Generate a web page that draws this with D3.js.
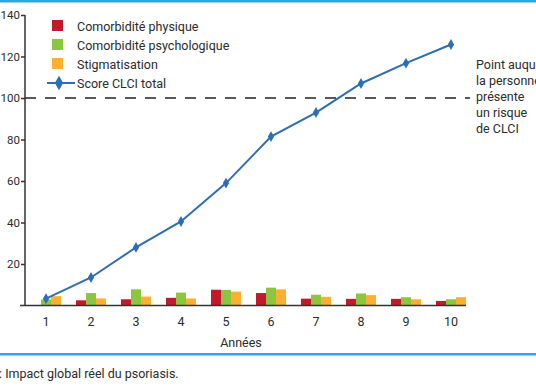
<!DOCTYPE html>
<html>
<head>
    <title>Score CLCI</title>
    <script src="https://cdnjs.cloudflare.com/ajax/libs/d3/7.8.5/d3.min.js"></script>
    <style>
        body { margin: 0; background: #fff; }
        text { font-family: Roboto, "DejaVu Sans", sans-serif; fill: #2b2b2b; }
    </style>
</head>

<body>
    <div id="chart"></div>

    <script>
        // data
        const annees = ["1", "2", "3", "4", "5", "6", "7", "8", "9", "10"]
        const physique = [0, 2.5, 3, 3.7, 7.6, 6, 3.3, 3.2, 3.2, 2.2]
        const psychologique = [2.9, 6, 7.8, 6.2, 7.5, 8.6, 5.2, 5.8, 4, 3]
        const stigmatisation = [4.5, 3.4, 4.3, 3.4, 6.7, 7.8, 4.2, 5, 3, 4]
        const scoreTotal = [3.3, 13.5, 28, 40.5, 59, 81.4, 93, 107, 116.8, 125.8]
        const yTicks = [20, 40, 60, 80, 100, 120, 140]
        const seuil = 100
        const seriesNames = ["Comorbidité physique", "Comorbidité psychologique", "Stigmatisation"]
        const lineName = "Score CLCI total"
        const noteLines = ["Point auquel", "la personne", "présente", "un risque", "de CLCI"]

        const W = 536, H = 386
        const colors = ["#c4192b", "#8cc63f", "#fbb034"]
        const lineColor = "#2d6db5"
        const rule = "#29a9df"

        let svg = d3.select("#chart").append("svg")
            .attr("width", W).attr("height", H)

        let x = d3.scaleBand().domain(annees).range([23.5, 473.5])
        let y = d3.scaleLinear().domain([0, 140]).range([305.5, 15])
        let barW = 10

        // top and bottom blue rules
        svg.append("rect").attr("x", 0).attr("y", 0).attr("width", W).attr("height", 2.5).attr("fill", rule)
        svg.append("rect").attr("x", 0).attr("y", 353).attr("width", W).attr("height", 2.5).attr("fill", rule)

        // bars
        let series = [physique, psychologique, stigmatisation]
        series.forEach(function (vals, s) {
            svg.append("g").selectAll("rect").data(vals).join("rect")
                .attr("x", (d, i) => x(annees[i]) + x.bandwidth() / 2 - 1.5 * barW + s * barW)
                .attr("y", d => y(d))
                .attr("width", barW)
                .attr("height", d => y(0) - y(d))
                .attr("fill", colors[s])
        })

        // threshold dashed line
        svg.append("line")
            .attr("x1", 25).attr("x2", 470)
            .attr("y1", y(seuil)).attr("y2", y(seuil))
            .attr("stroke", "#222").attr("stroke-width", 1.3)
            .attr("stroke-dasharray", "11,9")

        // axes
        let yAxis = svg.append("g").attr("transform", "translate(25,0)")
            .call(d3.axisLeft(y).tickValues(yTicks).tickSize(4).tickPadding(1))
        yAxis.select(".domain").attr("d", `M0,${y(0)}V${y(140)}`)
        yAxis.selectAll("line, path").attr("stroke", "#333").attr("stroke-width", 1.5)
        yAxis.selectAll("text").style("font-size", "11.5px").attr("fill", "#2b2b2b").style("font-family", "Roboto, sans-serif")

        svg.append("line").attr("x1", 20).attr("x2", 466)
            .attr("y1", y(0)).attr("y2", y(0))
            .attr("stroke", "#333").attr("stroke-width", 1.5)

        svg.append("g").selectAll("text").data(annees).join("text")
            .attr("x", d => x(d) + x.bandwidth() / 2)
            .attr("y", 326)
            .attr("text-anchor", "middle")
            .style("font-size", "12.5px")
            .text(d => d)

        svg.append("text").attr("x", 241).attr("y", 347)
            .attr("text-anchor", "middle").style("font-size", "12.5px")
            .text("Années")

        // total score line
        let line = d3.line()
            .x((d, i) => x(annees[i]) + x.bandwidth() / 2)
            .y(d => y(d))
        svg.append("path").datum(scoreTotal)
            .attr("d", line)
            .attr("fill", "none")
            .attr("stroke", lineColor)
            .attr("stroke-width", 2)
        let diamond = d3.symbol().type(d3.symbolDiamond).size(34)
        svg.append("g").selectAll("path").data(scoreTotal).join("path")
            .attr("d", diamond)
            .attr("transform", (d, i) => `translate(${x(annees[i]) + x.bandwidth() / 2},${y(d)})`)
            .attr("fill", lineColor)

        // legend
        let lg = svg.append("g")
        seriesNames.forEach(function (name, i) {
            let ly = 26 + i * 19
            lg.append("rect").attr("x", 52).attr("y", ly - 6).attr("width", 11).attr("height", 11).attr("fill", colors[i])
            lg.append("text").attr("x", 77).attr("y", ly + 4.5).style("font-size", "12.5px").text(name)
        })
        lg.append("line").attr("x1", 47).attr("x2", 75).attr("y1", 83).attr("y2", 83)
            .attr("stroke", lineColor).attr("stroke-width", 2)
        lg.append("path").attr("d", d3.symbol().type(d3.symbolDiamond).size(60))
            .attr("transform", "translate(59,83)").attr("fill", lineColor)
        lg.append("text").attr("x", 77).attr("y", 87.5).style("font-size", "12.5px").text(lineName)

        // note on the right
        noteLines.forEach(function (t, i) {
            svg.append("text").attr("x", 476).attr("y", 69 + i * 16)
                .style("font-size", "12.5px").text(t)
        })

        // caption
        svg.append("text").attr("x", -1).attr("y", 378)
            .style("font-size", "12.5px").text(": Impact global réel du psoriasis.")
    </script>
</body>

</html>
